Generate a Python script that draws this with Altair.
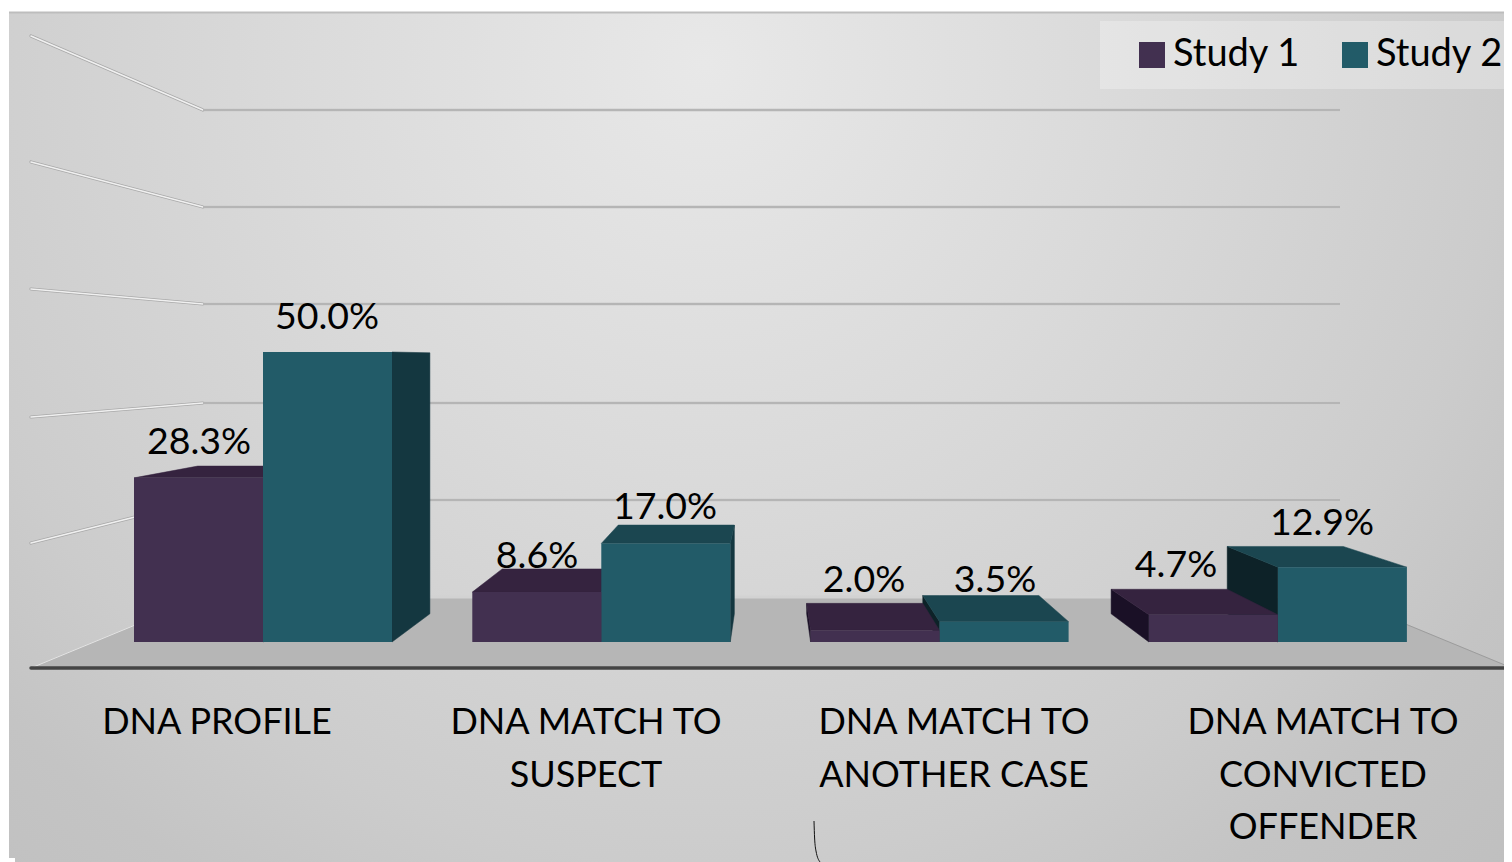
import altair as alt
import pandas as pd

# ---- chart values ----
categories = [["DNA PROFILE"], ["DNA MATCH TO", "SUSPECT"], ["DNA MATCH TO", "ANOTHER CASE"],
              ["DNA MATCH TO", "CONVICTED", "OFFENDER"]]
study_names = ["Study 1", "Study 2"]
study1 = [28.3, 8.6, 2.0, 4.7]
study2 = [50.0, 17.0, 3.5, 12.9]

# ---- layout constants (units: page pixels for x; y goes through percent scale) ----
W, H = 1496, 854
BASE, PX_PER_PCT = 642.0, 5.8
VX, VY, DEPTH = 771.0, 360.0, 0.9      # vanishing point and bar depth ratio
GROUP0, STEP, BAR_W = 134.0, 338.3, 129.0
FONT = "Lato"
FRONT = {"Study 1": "#423050", "Study 2": "#225b68"}
TOP = {"Study 1": "#35233f", "Study 2": "#1b4650"}
RIGHT = {"Study 1": "#2a1c33", "Study 2": "#143740"}
LEFT = {"Study 1": "#1a1026", "Study 2": "#0d2228"}
WALL_FRONT = [36, 162, 289, 417, 543]
WALL_BACK = [110, 207, 304, 403, 500]
WALL_X0, WALL_X1, WALL_X2, WALL_X3 = 31, 203, 1340, 1512
FLOOR_BACK, FLOOR_FRONT = 597, 668
LABEL_POS = {"Study 1": [(199, 443), (537, 557), (864, 581), (1176, 566)],
             "Study 2": [(327, 318), (665, 508), (995, 581), (1322, 524)]}
CAT_CENTERS = [217, 586, 954, 1323]
CAT_Y0, CAT_DY = 723, 52.5


def val(py):
    return (BASE - py) / PX_PER_PCT


def px(v):
    return BASE - v * PX_PER_PCT


xs = alt.Scale(domain=[8, 8 + W], range=[0, W], nice=False, zero=False)
ys = alt.Scale(domain=[val(8 + H), val(8)], range=[H, 0], nice=False, zero=False)


def X(f):
    return alt.X(f + ":Q", scale=xs, axis=None)


def Y(f):
    return alt.Y(f + ":Q", scale=ys, axis=None)


def Y2(f):
    return alt.Y2(f + ":Q")


def back(p):
    return (VX + DEPTH * (p[0] - VX), VY + DEPTH * (p[1] - VY))


def poly_area(points, color):
    """Fill a convex polygon as an area between its upper and lower edges."""
    rows = []
    n = len(points)
    for x in sorted({p[0] for p in points}):
        hits = []
        for i in range(n):
            a, b = points[i], points[(i + 1) % n]
            if min(a[0], b[0]) <= x <= max(a[0], b[0]):
                if a[0] == b[0]:
                    hits += [a[1], b[1]]
                else:
                    hits.append(a[1] + (b[1] - a[1]) * (x - a[0]) / (b[0] - a[0]))
        rows.append({"x": x, "y": val(min(hits)), "y2": val(max(hits))})
    return alt.Chart(pd.DataFrame(rows)).mark_area(
        color=color, orient="vertical", stroke=color, strokeWidth=0.5, clip=True
    ).encode(x=X("x"), y=Y("y"), y2=Y2("y2"))


def rules(segs, color, width, cap="butt"):
    df = pd.DataFrame([{"x": a[0], "y": val(a[1]), "x2": b[0], "y2": val(b[1])} for a, b in segs])
    return alt.Chart(df).mark_rule(color=color, strokeWidth=width, strokeCap=cap).encode(
        x=X("x"), x2=alt.X2("x2:Q"), y=Y("y"), y2=Y2("y2"))


layers = []

# background
gradient = alt.RadialGradient(
    gradient="radial", x1=0.47, y1=0.03, r1=0, x2=0.47, y2=0.03, r2=0.7,
    stops=[alt.GradientStop(color="#e8e8e8", offset=0),
           alt.GradientStop(color="#dadada", offset=0.35),
           alt.GradientStop(color="#cccccc", offset=0.67),
           alt.GradientStop(color="#c4c4c4", offset=0.8),
           alt.GradientStop(color="#bebebe", offset=1)])
layers.append(alt.Chart(pd.DataFrame({"a": [0]})).mark_rect(color=gradient).encode(
    x=alt.value(1), x2=alt.value(W), y=alt.value(4), y2=alt.value(2 * H)))
layers.append(rules([((9, 12.5), (8 + W, 12.5))], "#bdbdbd", 2))

# legend box
layers.append(alt.Chart(pd.DataFrame({"x": [1100], "x2": [8 + W], "y": [val(21)], "y2": [val(89)]})).mark_rect(
    color="#ffffff", opacity=0.28).encode(x=X("x"), x2=alt.X2("x2:Q"), y=Y("y"), y2=Y2("y2")))

# floor
layers.append(poly_area([(WALL_X0, FLOOR_FRONT), (WALL_X1, FLOOR_BACK), (WALL_X2, FLOOR_BACK),
                         (WALL_X3, FLOOR_FRONT)], "#b6b6b6"))

# walls' gridlines
wall_segs = [((WALL_X0, f), (WALL_X1, b)) for f, b in zip(WALL_FRONT, WALL_BACK)]
back_segs = [((WALL_X1, b), (WALL_X2, b)) for b in WALL_BACK]
layers.append(rules(wall_segs, "#a9a9a9", 3.2, "round"))
layers.append(rules(wall_segs, "#f0f0f0", 1.6, "round"))
layers.append(rules(back_segs, "#cdcdcd", 3))
layers.append(rules(back_segs, "#adadad", 1.3))
layers.append(rules([((WALL_X1, FLOOR_BACK), (WALL_X2, FLOOR_BACK))], "#d2d2d2", 3))
layers.append(rules([((WALL_X0, FLOOR_FRONT), (WALL_X1, FLOOR_BACK))], "#e4e4e4", 1))
layers.append(rules([((WALL_X3, FLOOR_FRONT), (WALL_X2, FLOOR_BACK))], "#9c9c9c", 1))
layers.append(rules([((WALL_X0, FLOOR_FRONT), (WALL_X3, FLOOR_FRONT))], "#444444", 3.5, "round"))

# 3-D faces of the bars, farthest first
bars = []
for i in range(4):
    left = GROUP0 + STEP * i
    for name, vals, x0 in [("Study 2", study2, left + BAR_W), ("Study 1", study1, left)]:
        x1 = x0 + BAR_W
        top = px(vals[i])
        bars.append({"study": name, "x": x0, "x2": x1, "v": vals[i]})
        fl, fr, tl, tr = (x0, BASE), (x1, BASE), (x0, top), (x1, top)
        if x0 > VX:
            layers.append(poly_area([fl, tl, back(tl), back(fl)], LEFT[name]))
        if x1 < VX:
            layers.append(poly_area([fr, tr, back(tr), back(fr)], RIGHT[name]))
        if top > VY:
            layers.append(poly_area([tl, tr, back(tr), back(tl)], TOP[name]))

# front faces (with the legend)
layers.append(alt.Chart(pd.DataFrame(bars)).mark_bar(stroke=None).encode(
    x=X("x"), x2=alt.X2("x2:Q"), y=Y("v"), y2=alt.datum(0),
    color=alt.Color("study:N", scale=alt.Scale(domain=study_names, range=[FRONT[s] for s in study_names]),
                    legend=alt.Legend(orient="none", legendX=1125, legendY=28, direction="horizontal",
                                      title=None, symbolType="square", symbolSize=676, symbolStrokeWidth=0,
                                      labelFont=FONT, labelFontSize=38, labelColor="#000000", labelOffset=2,
                                      columnPadding=35, padding=0))))

# value labels
val_rows = []
for name, vals in zip(study_names, [study1, study2]):
    for v, (lx, ly) in zip(vals, LABEL_POS[name]):
        val_rows.append({"x": lx, "y": val(ly), "t": f"{v:.1f}%"})
layers.append(alt.Chart(pd.DataFrame(val_rows)).mark_text(
    font=FONT, fontSize=37.5, color="#000000", align="center", baseline="middle"
).encode(x=X("x"), y=Y("y"), text="t:N"))

# category labels
cat_rows = []
for lines, cx in zip(categories, CAT_CENTERS):
    for j, line in enumerate(lines):
        cat_rows.append({"x": cx, "y": val(CAT_Y0 + CAT_DY * j), "t": line})
layers.append(alt.Chart(pd.DataFrame(cat_rows)).mark_text(
    font=FONT, fontSize=36, color="#000000", align="center", baseline="middle"
).encode(x=X("x"), y=Y("y"), text="t:N"))

# small stray marks of the original picture
stroke_df = pd.DataFrame({"x": [814, 814.6, 816, 820], "y": [val(821), val(838), val(851), val(862)]})
layers.append(alt.Chart(stroke_df).mark_line(color="#111111", strokeWidth=1, interpolate="monotone").encode(
    x=X("x"), y=Y("y")))
layers.append(alt.Chart(pd.DataFrame({"x": [9], "x2": [15], "y": [val(858)], "y2": [val(862)]})).mark_rect(
    color="#ffffff").encode(x=X("x"), x2=alt.X2("x2:Q"), y=Y("y"), y2=Y2("y2")))

chart = alt.layer(*layers).properties(
    width=W, height=H, padding=0, autosize=alt.AutoSizeParams(type="none"), background="#ffffff"
).configure_view(stroke=None)

chart.save("out.html", embed_options={"renderer": "svg", "actions": False})
